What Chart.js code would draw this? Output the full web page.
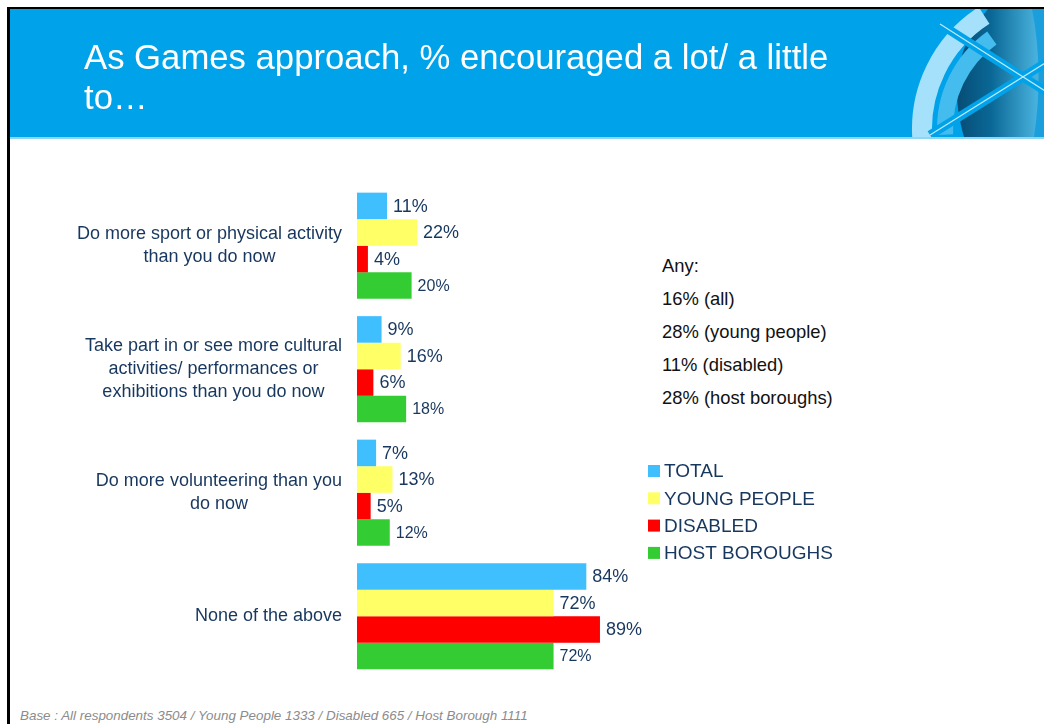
<!DOCTYPE html>
<html>
<head>
<meta charset="utf-8">
<script src="https://cdn.jsdelivr.net/npm/chart.js@4/dist/chart.umd.min.js"></script>
<style>
  body { margin: 0; background: #fff; font-family: "Liberation Sans", Arial, sans-serif; }
  #page { position: relative; width: 1044px; height: 724px; overflow: hidden; background: #fff; }
  #frameTop { position: absolute; left: 7px; top: 7px; width: 1037px; height: 2px; background: #000; }
  #frameLeft { position: absolute; left: 7px; top: 7px; width: 3px; height: 717px; background: #000; }
  #header { position: absolute; left: 10px; top: 9px; width: 1034px; height: 128px; background: #00a3e9; overflow: hidden; }
  #headerLine { position: absolute; left: 10px; top: 137px; width: 1034px; height: 2px; background: #8ed6f6; }
  #title { position: absolute; left: 84px; top: 37px; color: #fff; font-size: 34.7px; line-height: 40px; white-space: nowrap; }
  #logo { position: absolute; left: 10px; top: 9px; }
  #anyBox { position: absolute; left: 662px; top: 255px; color: #111; font-size: 18.4px; }
  #anyBox div { height: 33.1px; line-height: 22px; }
  #base { position: absolute; left: 20px; top: 708px; color: #8c8c8c; font-size: 13.4px; font-style: italic; white-space: nowrap; }
  #chartOne { position: absolute; left: 0; top: 0; }
</style>
</head>
<body>
<div id="page">
  <div id="header"></div>
  <canvas id="logo" width="1034" height="128"></canvas>
  <div id="headerLine"></div>
  <div id="frameTop"></div>
  <div id="frameLeft"></div>
  <div id="title">As Games approach, % encouraged a lot/ a little<br>to…</div>
  <div id="anyBox"></div>
  <div id="base">Base : All respondents 3504 / Young People 1333 / Disabled 665 / Host Borough 1111</div>
  <canvas id="chartOne" width="1044" height="724"></canvas>
</div>
<script>
// survey answers
const categories = [
    ["Do more sport or physical activity", "than you do now"],
    ["Take part in or see more cultural", "activities/ performances or", "exhibitions than you do now"],
    ["Do more volunteering than you", "do now"],
    ["None of the above"]
];
const seriesNames = ["TOTAL", "YOUNG PEOPLE", "DISABLED", "HOST BOROUGHS"];
const totalValues = [11, 9, 7, 84];
const youngValues = [22, 16, 13, 72];
const disabledValues = [4, 6, 5, 89];
const hostValues = [20, 18, 12, 72];
const anyLines = ["Any:", "16% (all)", "28% (young people)", "11% (disabled)", "28% (host boroughs)"];

const seriesColors = ['#40bfff', '#ffff66', '#ff0000', '#33cc33'];
const textBlue = '#17375e';
const fontFamily = '"Liberation Sans", Arial, sans-serif';

// "Any:" side note
const anyBox = document.getElementById("anyBox");
anyLines.forEach(function (t) {
    const d = document.createElement("div");
    d.textContent = t;
    anyBox.appendChild(d);
});

// header emblem (page coordinates, header starts at 10,9)
const logo = document.getElementById("logo").getContext("2d");
(function () {
    const g = logo;
    g.save();
    g.translate(-10, -9);
    g.beginPath();
    g.rect(10, 9, 1034, 128);
    g.clip();

    // right-hand backdrop
    g.fillStyle = '#1b9fdc';
    g.fillRect(1030, 9, 20, 128);

    // dark lens
    let grad = g.createLinearGradient(955, 0, 1036, 0);
    grad.addColorStop(0, '#064b74');
    grad.addColorStop(0.45, '#0a6896');
    grad.addColorStop(1, '#48b0dc');
    g.fillStyle = grad;
    g.beginPath();
    g.moveTo(988, 9);
    g.quadraticCurveTo(942, 62, 964, 137);
    g.lineTo(1034, 137);
    g.quadraticCurveTo(1044, 70, 1032, 9);
    g.closePath();
    g.fill();

    // inner ring
    g.strokeStyle = '#45bcee';
    g.lineWidth = 16;
    g.beginPath();
    g.arc(1057, 129, 112, Math.PI - 0.05, Math.PI + 0.95);
    g.stroke();

    // pale outer ring
    g.strokeStyle = '#a6e1fb';
    g.lineWidth = 20;
    g.beginPath();
    g.arc(1057, 129, 135, Math.PI - 0.1, Math.PI + 1.0);
    g.stroke();

    // crossing bars
    g.strokeStyle = '#00a3e9';
    g.lineWidth = 9;
    g.beginPath();
    g.moveTo(940, 24); g.lineTo(1023, 77); g.lineTo(1050, 94);
    g.moveTo(930, 135); g.lineTo(1023, 77); g.lineTo(1050, 60);
    g.stroke();
    g.strokeStyle = 'rgba(225,246,255,0.85)';
    g.lineWidth = 1.2;
    g.beginPath();
    g.moveTo(940, 24); g.lineTo(1050, 94);
    g.moveTo(930, 135); g.lineTo(1050, 60);
    g.stroke();
    g.restore();
})();

// value labels at the end of each bar
const valueLabels = {
    id: 'valueLabels',
    afterDatasetsDraw(chart) {
        const ctx = chart.ctx;
        ctx.save();
        ctx.fillStyle = textBlue;
        ctx.textAlign = 'left';
        ctx.textBaseline = 'middle';
        chart.data.datasets.forEach(function (ds, i) {
            const size = i === 3 ? 16 : 18;
            ctx.font = size + 'px ' + fontFamily;
            chart.getDatasetMeta(i).data.forEach(function (bar, j) {
                ctx.fillText(ds.data[j] + '%', bar.x + 6, bar.y + 1);
            });
        });
        ctx.restore();
    }
};

// category names, centred block right-aligned to the axis
const categoryLabels = {
    id: 'categoryLabels',
    afterDraw(chart) {
        const ctx = chart.ctx;
        const yScale = chart.scales.y;
        const right = chart.chartArea.left - 15;
        const lineH = 23;
        ctx.save();
        ctx.font = '18px ' + fontFamily;
        ctx.fillStyle = textBlue;
        ctx.textAlign = 'center';
        ctx.textBaseline = 'middle';
        chart.data.labels.forEach(function (lines, i) {
            const w = Math.max.apply(null, lines.map(function (l) { return ctx.measureText(l).width; }));
            const cx = right - w / 2;
            const cy = yScale.getPixelForValue(i);
            lines.forEach(function (l, k) {
                ctx.fillText(l, cx, cy + (k - (lines.length - 1) / 2) * lineH);
            });
        });
        ctx.restore();
    }
};

// legend block
const sideLegend = {
    id: 'sideLegend',
    afterDraw(chart) {
        const ctx = chart.ctx;
        ctx.save();
        ctx.font = '19px ' + fontFamily;
        ctx.textBaseline = 'middle';
        chart.data.datasets.forEach(function (ds, i) {
            const y = 471 + i * 27.3;
            ctx.fillStyle = ds.backgroundColor;
            ctx.fillRect(648, y - 6, 12, 12);
            ctx.fillStyle = textBlue;
            ctx.fillText(ds.label, 664, y + 1);
        });
        ctx.restore();
    }
};

const chartOne = document.getElementById("chartOne");
let barChart = new Chart(chartOne, {
    type: 'bar',
    data: {
        labels: categories,
        datasets: [
            { label: seriesNames[0], data: totalValues, backgroundColor: seriesColors[0] },
            { label: seriesNames[1], data: youngValues, backgroundColor: seriesColors[1] },
            { label: seriesNames[2], data: disabledValues, backgroundColor: seriesColors[2] },
            { label: seriesNames[3], data: hostValues, backgroundColor: seriesColors[3] }
        ]
    },
    options: {
        indexAxis: 'y',
        responsive: false,
        animation: false,
        events: [],
        categoryPercentage: 0.86,
        barPercentage: 1,
        layout: { padding: { left: 357, right: 414, top: 184, bottom: 46 } },
        scales: {
            x: { display: false, min: 0, max: 100 },
            y: { display: false }
        },
        plugins: {
            legend: { display: false },
            tooltip: { enabled: false }
        }
    },
    plugins: [valueLabels, categoryLabels, sideLegend]
});
</script>
</body>
</html>
